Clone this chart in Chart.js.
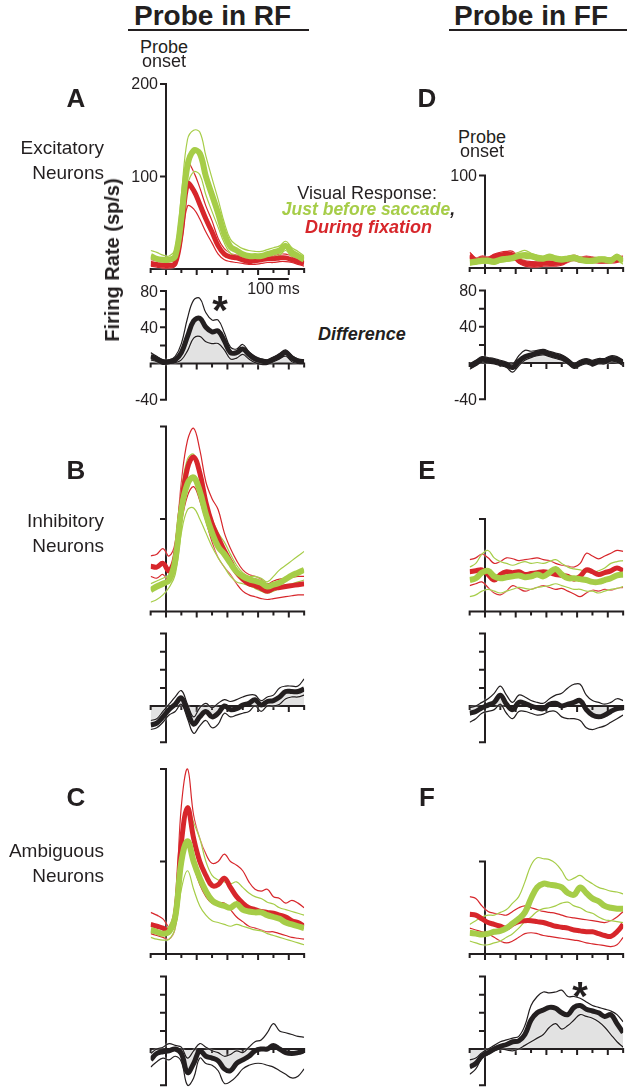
<!DOCTYPE html>
<html>
<head>
<meta charset="utf-8">
<script src="https://cdn.jsdelivr.net/npm/chart.js@4.4.0/dist/chart.umd.min.js"></script>
<style>
body { margin:0; background:#fff; width:627px; height:1089px; overflow:hidden; position:relative;
       font-family:'Liberation Sans', Arial, sans-serif; color:#231f20; }
canvas { position:absolute; }
.t { position:absolute; white-space:nowrap; line-height:1; }
</style>
</head>
<body>
<script>
// time axis (ms from probe onset)
const times = [-50,-30,-10,10,30,50,70,90,110,130,150,170,190,210,230,250,270,290,310,330,350,370,390,410,430,450];

// A - excitatory, probe in RF
const aGreen   = [14,11,10,10,14,55,112,128,125,100,80,60,38,24,20,16,14,14,14,16,18,20,25,18,14,10];
const aGreenHi = [20,18,15,14,22,80,140,150,148,122,98,75,50,32,26,22,20,19,19,21,23,25,30,23,19,14];
const aGreenLo = [8,6,5,5,8,35,90,105,102,80,62,45,28,17,14,11,9,9,10,11,13,15,20,13,10,7];
const aRed     = [6,5,4,4,6,40,92,85,70,54,40,25,16,13,12,10,8,9,10,11,11,12,12,10,8,6];
const aRedHi   = [10,9,8,8,10,55,115,105,88,68,52,33,22,17,15,13,11,12,13,15,14,16,16,14,11,9];
const aRedLo   = [3,2,1,1,3,28,68,65,54,40,28,16,10,8,7,6,5,5,6,7,7,8,8,7,5,3];
const aDiff    = [8,5,2,2,4,12,30,47,50,40,35,36,25,12,12,16,10,5,3,2,5,8,12,6,3,2];
const aDiffHi  = [12,8,4,4,8,22,50,70,72,56,48,48,34,18,16,21,13,8,5,4,7,11,15,9,5,4];
const aDiffLo  = [4,2,-1,0,1,4,14,28,30,24,22,22,15,5,6,10,5,1,-1,-1,2,5,8,2,0,0];

// B - inhibitory, probe in RF
const bGreen   = [23,27,30,34,55,110,138,145,130,105,85,70,62,52,43,38,35,33,31,27,29,31,35,39,42,45];
const bGreenHi = [30,33,36,40,70,130,165,170,150,120,100,85,75,62,50,42,38,38,36,32,38,45,50,55,60,65];
const bGreenLo = [10,13,18,26,40,85,110,112,100,85,70,58,48,38,32,30,28,25,22,20,22,25,28,30,32,34];
const bRed     = [49,48,52,44,60,115,155,167,150,118,95,80,66,54,42,35,30,28,25,22,25,26,27,28,29,30];
const bRedHi   = [60,62,68,60,75,140,185,198,175,140,122,110,85,68,55,45,40,38,35,30,33,35,36,37,38,38];
const bRedLo   = [38,36,40,32,45,95,125,135,120,98,75,58,48,40,30,22,18,16,14,13,14,15,16,17,18,18];
const bDiff    = [-21,-19,-12,-4,2,9,-6,-20,-12,-6,-12,-8,0,-4,-3,1,3,7,1,5,6,10,16,16,16,19];
const bDiffHi  = [-16,-14,-6,2,10,17,2,-12,-2,3,-2,3,7,5,7,10,12,12,6,10,12,20,22,22,22,30];
const bDiffLo  = [-26,-24,-18,-10,-6,2,-14,-30,-22,-16,-24,-20,-8,-12,-10,-8,-6,0,-6,0,0,2,8,10,10,12];

// C - ambiguous, probe in RF
const cGreen   = [26,24,22,24,40,100,122,100,82,68,58,54,52,50,54,48,46,45,45,42,40,38,34,32,30,28];
const cGreenHi = [32,30,28,30,50,130,160,142,125,100,85,80,78,76,78,72,66,62,60,56,54,50,48,46,44,42];
const cGreenLo = [18,16,15,16,28,70,90,70,52,42,36,34,32,30,32,30,28,26,25,22,20,18,16,14,12,10];
const cRed     = [32,30,28,25,40,120,158,125,100,85,74,75,82,72,62,55,50,48,46,45,44,42,40,36,34,30];
const cRedHi   = [45,42,38,30,55,160,200,150,125,108,98,100,108,100,96,90,78,70,68,70,62,60,55,58,55,50];
const cRedLo   = [22,20,18,16,28,90,118,95,75,62,55,55,55,48,40,35,30,28,26,24,24,22,20,18,17,16];
const cDiff    = [-12,-5,-3,-2,0,-5,-26,-16,-2,-8,-10,-13,-22,-24,-16,-12,-8,-2,0,0,4,0,-4,-5,-4,-2];
const cDiffHi  = [-5,0,2,6,4,2,-10,-2,6,2,-2,-4,-8,-6,-2,-4,2,8,10,18,28,20,18,16,14,13];
const cDiffLo  = [-20,-14,-10,-12,-8,-14,-40,-32,-10,-16,-18,-24,-38,-36,-30,-22,-18,-16,-16,-18,-20,-24,-28,-32,-30,-22];

// D - excitatory, probe in FF
const dGreen   = [6,7,8,8,7,9,10,11,13,14,13,11,10,12,10,9,10,11,9,8,8,9,9,8,12,7];
const dGreenHi = [9,10,11,11,10,12,13,15,17,19,16,14,13,15,13,12,13,14,12,11,11,12,12,11,15,10];
const dGreenLo = [3,4,5,5,4,6,7,8,9,10,10,8,7,9,7,6,7,8,6,5,5,6,6,5,9,4];
const dRed     = [14,8,10,9,12,14,15,14,8,5,4,4,5,5,5,6,9,11,9,10,9,8,8,8,9,10];
const dRedHi   = [17,11,13,12,15,17,18,18,12,8,7,7,8,8,8,9,12,14,12,13,12,11,11,11,12,13];
const dRedLo   = [11,5,7,6,9,11,12,11,5,2,1,1,2,2,2,3,6,8,6,7,6,5,5,5,6,7];
const dDiff    = [-4,0,4,3,2,0,-2,-5,2,7,9,11,12,10,8,6,2,-3,0,2,0,2,2,5,4,0];
const dDiffHi  = [-1,3,7,6,5,3,1,-1,8,14,13,14,15,13,11,9,5,0,3,5,3,5,5,8,7,3];
const dDiffLo  = [-7,-3,1,0,-1,-3,-5,-10,-3,3,6,8,9,7,5,3,-1,-6,-3,-1,-3,-1,-1,2,1,-3];

// E - inhibitory, probe in FF
const eGreen   = [34,36,42,44,38,36,37,38,39,37,38,40,38,42,46,40,36,36,35,34,32,32,34,36,39,40];
const eGreenHi = [48,52,62,66,58,54,52,50,52,54,52,53,52,54,56,52,48,46,45,43,42,44,47,52,54,55];
const eGreenLo = [16,18,22,24,22,20,22,24,26,25,24,26,27,28,30,28,26,24,24,22,22,20,22,24,25,27];
const eRed     = [43,44,45,40,34,40,43,42,43,40,41,42,43,42,40,39,38,35,38,45,43,40,42,44,47,44];
const eRedHi   = [56,58,62,58,52,54,58,57,55,56,57,58,56,55,52,50,49,48,52,63,60,57,60,63,66,65];
const eRedLo   = [28,30,32,26,20,18,22,28,25,22,24,26,28,26,24,25,22,19,16,20,23,22,24,23,25,26];
const eDiff    = [-8,-6,-2,1,4,12,2,-4,4,3,0,-2,-3,2,3,0,2,4,6,-4,-10,-12,-10,-6,-3,-2];
const eDiffHi  = [-2,0,4,8,14,22,12,4,12,10,6,4,3,8,12,14,20,24,24,12,6,4,2,4,8,6];
const eDiffLo  = [-18,-14,-8,-6,-4,2,-8,-14,-6,-6,-8,-10,-9,-6,-6,-12,-14,-14,-16,-24,-26,-24,-22,-18,-14,-10];

// F - ambiguous, probe in FF
const fGreen   = [23,22,21,22,24,25,28,33,38,45,60,72,76,75,74,72,66,64,72,66,60,57,52,50,49,49];
const fGreenHi = [32,36,40,42,42,45,48,55,62,78,96,104,103,102,98,90,80,82,85,80,76,72,70,68,67,65];
const fGreenLo = [14,12,10,10,12,14,18,22,28,35,40,46,49,50,52,55,56,52,50,46,44,40,37,36,35,34];
const fRed     = [43,42,38,34,32,30,28,32,35,36,36,35,34,32,30,29,28,26,25,24,24,22,20,19,24,32];
const fRedHi   = [62,60,52,46,44,43,42,46,50,52,50,48,46,45,44,42,40,39,38,37,36,35,34,36,40,46];
const fRedLo   = [28,26,24,22,18,14,12,14,18,22,23,22,20,19,18,17,16,15,14,12,11,10,9,8,10,18];
const fDiff    = [-20,-16,-8,-4,0,3,5,8,9,16,32,40,43,46,45,40,38,46,48,44,42,40,36,38,28,18];
const fDiffHi  = [-12,-10,-4,0,4,8,10,12,14,26,48,58,63,62,63,65,58,58,56,52,48,46,44,42,38,30];
const fDiffLo  = [-28,-22,-10,-6,-2,0,-1,-2,0,4,8,12,16,24,28,22,26,32,38,36,34,30,24,16,8,2];

const GREEN = '#a6cd48';
const RED = '#d7262b';
const INK = '#231f20';
const KX = 0.307;       // px per ms
const KRESP = 0.925;    // px per sp/s, response panels
const KDIFF = 0.905;    // px per sp/s, difference panels

function pts(arr) {
    return times.map((t, i) => ({x: t, y: arr[i]}));
}

function line(arr, color, width, order) {
    return {data: pts(arr), borderColor: color, borderWidth: width, pointRadius: 0,
            tension: 0.4, fill: false, order: order};
}

function respSets(g, gHi, gLo, r, rHi, rLo) {
    return [
        line(g, GREEN, 6, 1),
        line(r, RED, 5, 2),
        line(gHi, GREEN, 1.2, 3),
        line(gLo, GREEN, 1.2, 3),
        line(rHi, RED, 1.2, 4),
        line(rLo, RED, 1.2, 4)
    ];
}

function diffSets(m, hi, lo) {
    const mean = line(m, INK, 5, 1);
    mean.fill = 'origin';
    mean.backgroundColor = '#e2e2e2';
    return [mean, line(hi, INK, 1.2, 2), line(lo, INK, 1.2, 2)];
}

// thin traces get a soft white halo, like the printed figure
const halo = {
    id: 'halo',
    beforeDatasetDraw(chart, args) {
        if (chart.data.datasets[args.index].borderWidth < 2) {
            chart.ctx.shadowColor = 'rgba(255,255,255,0.95)';
            chart.ctx.shadowBlur = 2;
        }
    },
    afterDatasetDraw(chart) {
        chart.ctx.shadowColor = 'rgba(0,0,0,0)';
        chart.ctx.shadowBlur = 0;
    }
};

// axes drawn with the chart's own scales
function axesPlugin(spec) {
    return {
        id: 'axes',
        beforeDatasetsDraw(chart) {
            const ctx = chart.ctx, xs = chart.scales.x, ys = chart.scales.y;
            const px0 = xs.getPixelForValue(0), py0 = ys.getPixelForValue(0);
            ctx.save();
            ctx.strokeStyle = INK;
            ctx.lineWidth = 2;
            ctx.beginPath();
            ctx.moveTo(xs.getPixelForValue(-50) - 1, py0);
            ctx.lineTo(xs.getPixelForValue(450) + 1, py0);
            for (let t = -50; t <= 450; t += 50) {
                const x = xs.getPixelForValue(t);
                ctx.moveTo(x, py0);
                ctx.lineTo(x, py0 + (t % 100 === 0 ? 6 : 4));
            }
            ctx.moveTo(px0, ys.getPixelForValue(spec.top) - 1);
            ctx.lineTo(px0, ys.getPixelForValue(spec.bottom) + 1);
            spec.yticks.forEach(v => {
                const y = ys.getPixelForValue(v);
                ctx.moveTo(px0 - 6, y);
                ctx.lineTo(px0, y);
            });
            if (spec.bar) {
                ctx.moveTo(xs.getPixelForValue(300), py0 + 10);
                ctx.lineTo(xs.getPixelForValue(400), py0 + 10);
            }
            ctx.stroke();
            ctx.fillStyle = INK;
            ctx.font = '16px "Liberation Sans"';
            ctx.textAlign = 'right';
            ctx.textBaseline = 'middle';
            (spec.ylabels || []).forEach(v => {
                ctx.fillText(String(v), px0 - 8, ys.getPixelForValue(v) + 1);
            });
            if (spec.bar) {
                ctx.textAlign = 'center';
                ctx.textBaseline = 'alphabetic';
                ctx.fillText('100 ms', xs.getPixelForValue(350), py0 + 25);
            }
            ctx.restore();
        }
    };
}

function panel(x0, y0, k, ymin, ymax, datasets, spec) {
    const left = x0 - 50 * KX, right = x0 + 450 * KX;
    const top = y0 - k * ymax, bottom = y0 - k * ymin;
    const cl = Math.floor(left) - 60, ct = Math.floor(top) - 8;
    const w = Math.ceil(right) + 8 - cl, h = Math.ceil(bottom) + 32 - ct;
    const cv = document.createElement('canvas');
    cv.width = w; cv.height = h;
    cv.style.left = cl + 'px'; cv.style.top = ct + 'px';
    cv.style.width = w + 'px'; cv.style.height = h + 'px';
    document.body.appendChild(cv);
    new Chart(cv, {
        type: 'line',
        data: {datasets: datasets},
        options: {
            responsive: false,
            animation: false,
            devicePixelRatio: 1,
            layout: {padding: {left: left - cl, right: cl + w - right, top: top - ct, bottom: ct + h - bottom}},
            scales: {
                x: {type: 'linear', min: -50, max: 450, display: false},
                y: {type: 'linear', min: ymin, max: ymax, display: false}
            },
            plugins: {legend: {display: false}, tooltip: {enabled: false}, filler: {drawTime: 'beforeDatasetsDraw'}}
        },
        plugins: [axesPlugin(spec), halo]
    });
}

const L = 166, R = 485;
const diffSpec = {top: 80, bottom: -40, yticks: [80, 60, 40, 20, -40]};

panel(L, 269, KRESP, -8, 212, respSets(aGreen, aGreenHi, aGreenLo, aRed, aRedHi, aRedLo),
      {top: 200, bottom: 0, yticks: [100, 200], ylabels: [100, 200], bar: true});
panel(L, 363.5, KDIFF, -48, 86, diffSets(aDiff, aDiffHi, aDiffLo), Object.assign({ylabels: [80, 40, -40]}, diffSpec));
panel(L, 611.5, KRESP, -8, 212, respSets(bGreen, bGreenHi, bGreenLo, bRed, bRedHi, bRedLo),
      {top: 200, bottom: 0, yticks: [100, 200]});
panel(L, 706, KDIFF, -48, 86, diffSets(bDiff, bDiffHi, bDiffLo), diffSpec);
panel(L, 954, KRESP, -8, 212, respSets(cGreen, cGreenHi, cGreenLo, cRed, cRedHi, cRedLo),
      {top: 200, bottom: 0, yticks: [100, 200]});
panel(L, 1049, KDIFF, -48, 86, diffSets(cDiff, cDiffHi, cDiffLo), diffSpec);

panel(R, 268, KRESP, -8, 112, respSets(dGreen, dGreenHi, dGreenLo, dRed, dRedHi, dRedLo),
      {top: 100, bottom: 0, yticks: [100], ylabels: [100]});
panel(R, 363, KDIFF, -48, 86, diffSets(dDiff, dDiffHi, dDiffLo), Object.assign({ylabels: [80, 40, -40]}, diffSpec));
panel(R, 611.5, KRESP, -8, 112, respSets(eGreen, eGreenHi, eGreenLo, eRed, eRedHi, eRedLo),
      {top: 100, bottom: 0, yticks: [100]});
panel(R, 706, KDIFF, -48, 86, diffSets(eDiff, eDiffHi, eDiffLo), diffSpec);
panel(R, 954, KRESP, -8, 112, respSets(fGreen, fGreenHi, fGreenLo, fRed, fRedHi, fRedLo),
      {top: 100, bottom: 0, yticks: [100]});
panel(R, 1049, KDIFF, -48, 86, diffSets(fDiff, fDiffHi, fDiffLo), diffSpec);

// text labels: x, baseline, size, align, style
function label(html, x, base, size, align, css) {
    const d = document.createElement('div');
    d.className = 't';
    d.innerHTML = html;
    d.style.fontSize = size + 'px';
    d.style.left = x + 'px';
    d.style.top = (base - 0.8465 * size) + 'px';
    if (align === 'center') d.style.transform = 'translateX(-50%)';
    if (align === 'right') d.style.transform = 'translateX(-100%)';
    if (css) d.style.cssText += css;
    document.body.appendChild(d);
    return d;
}
function rule(x, y, w) {
    const d = document.createElement('div');
    d.style.cssText = 'position:absolute;height:2px;background:' + INK + ';left:' + x + 'px;top:' + y + 'px;width:' + w + 'px';
    document.body.appendChild(d);
}

label('Probe in RF', 134, 26, 28, 'left', 'font-weight:bold');
rule(128, 29, 181);
label('Probe in FF', 454, 26, 28, 'left', 'font-weight:bold');
rule(449, 29, 178);

label('Probe', 164, 53, 18, 'center');
label('onset', 164, 67, 18, 'center');
label('Probe', 482, 143, 18, 'center');
label('onset', 482, 157, 18, 'center');

[['A', 76, 107], ['B', 76, 479], ['C', 76, 806], ['D', 427, 107], ['E', 427, 479], ['F', 427, 806]]
    .forEach(p => label(p[0], p[1], p[2], 26, 'center', 'font-weight:bold'));

label('Excitatory', 104, 154, 19, 'right');
label('Neurons', 104, 179, 19, 'right');
label('Inhibitory', 104, 527, 19, 'right');
label('Neurons', 104, 552, 19, 'right');
label('Ambiguous', 104, 857, 19, 'right');
label('Neurons', 104, 882, 19, 'right');

const fr = document.createElement('div');
fr.className = 't';
fr.textContent = 'Firing Rate (sp/s)';
fr.style.cssText += 'font-size:20px;font-weight:bold;left:112px;top:260px;transform:translate(-50%,-50%) rotate(-90deg)';
document.body.appendChild(fr);

label('Visual Response:', 437, 199, 18, 'right');
label('<span style="color:' + GREEN + '">Just before saccade</span>,', 455, 216, 17.5, 'right', 'font-weight:bold;font-style:italic');
label('During fixation', 432, 233, 18, 'right', 'font-weight:bold;font-style:italic;color:' + RED);
label('Difference', 318, 340, 18, 'left', 'font-weight:bold;font-style:italic');

label('*', 220, 324, 40, 'center', 'font-weight:bold');
label('*', 580, 1010, 40, 'center', 'font-weight:bold');
</script>
</body>
</html>
